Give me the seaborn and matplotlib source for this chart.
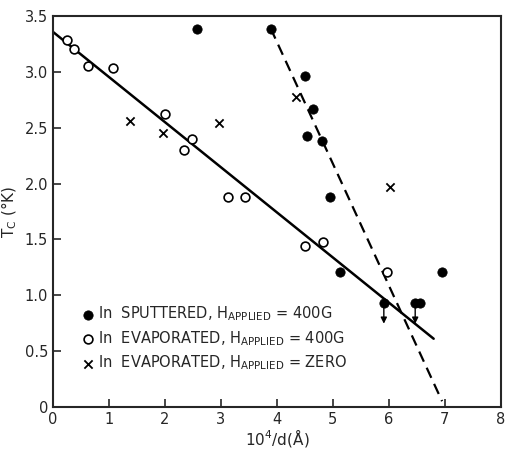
import matplotlib
matplotlib.use("Agg")
import matplotlib.pyplot as plt
import seaborn as sns
import pandas as pd

# In sputtered, H applied = 400G (filled circles)
sput_x = [2.58, 3.89, 4.50, 4.65, 4.53, 4.81, 4.94, 5.13, 5.91, 6.46, 6.55, 6.94]
sput_y = [3.39, 3.39, 2.96, 2.67, 2.43, 2.38, 1.88, 1.21, 0.93, 0.93, 0.93, 1.21]

# In evaporated, H applied = 400G (open circles)
evap_x = [0.25, 0.37, 0.62, 1.08, 2.00, 2.34, 2.48, 3.13, 3.43, 4.50, 4.83, 5.96]
evap_y = [3.29, 3.21, 3.05, 3.04, 2.62, 2.30, 2.40, 1.88, 1.88, 1.44, 1.48, 1.21]

# In evaporated, H applied = zero (crosses)
zero_x = [1.38, 1.97, 2.97, 4.34, 6.02]
zero_y = [2.56, 2.45, 2.54, 2.78, 1.97]

# upper-limit points (arrows down)
limit_x = [5.91, 6.47]
limit_y = [0.93, 0.93]

# fitted lines
solid_x = [0.0, 6.80]
solid_y = [3.36, 0.61]
dash_x = [3.89, 6.95]
dash_y = [3.39, 0.05]

sns.set_style("ticks")
plt.rcParams['font.family'] = ['DejaVu Sans']

fig = plt.figure(figsize=(5.09, 4.51), dpi=100)
ax = fig.add_axes([0.104, 0.098, 0.880, 0.866])

sns.lineplot(x=solid_x, y=solid_y, ax=ax, color='black', linewidth=1.8)
sns.lineplot(x=dash_x, y=dash_y, ax=ax, color='black', linewidth=1.6, linestyle=(0, (5, 3)))

sns.scatterplot(x=sput_x, y=sput_y, ax=ax, color='black', s=45, edgecolor='black',
                label=r'In  SPUTTERED, H$_{\mathrm{APPLIED}}$ = 400G', zorder=3)
sns.scatterplot(x=evap_x, y=evap_y, ax=ax, facecolor='white', s=40, edgecolor='black',
                linewidth=1.2, label=r'In  EVAPORATED, H$_{\mathrm{APPLIED}}$ = 400G', zorder=3)
sns.scatterplot(x=zero_x, y=zero_y, ax=ax, marker='x', color='black', s=35, linewidth=1.3,
                label=r'In  EVAPORATED, H$_{\mathrm{APPLIED}}$ = ZERO', zorder=3)

for lx, ly in zip(limit_x, limit_y):
    ax.annotate('', xy=(lx, ly - 0.21), xytext=(lx, ly),
                arrowprops=dict(arrowstyle='-|>', color='black', lw=1.0, mutation_scale=9))

ax.set_xlim(0, 8)
ax.set_ylim(0, 3.5)
ax.set_xticks(range(0, 9))
ax.set_yticks([0, 0.5, 1.0, 1.5, 2.0, 2.5, 3.0, 3.5])
ax.set_yticklabels(['0', '0.5', '1.0', '1.5', '2.0', '2.5', '3.0', '3.5'])
ax.tick_params(direction='in', length=6, width=1.2, labelsize=10.5)
for s in ax.spines.values():
    s.set_linewidth(1.5)

ax.set_xlabel(r'10$^4$/d(Å)', fontsize=11, labelpad=0)
ax.set_ylabel(r'T$_\mathrm{C}$ (°K)', fontsize=11)

ax.legend(loc='lower left', bbox_to_anchor=(0.035, 0.055), frameon=False, fontsize=10.5,
          handletextpad=0.3, labelspacing=0.4, handlelength=0.8)

fig.savefig('out.png', dpi=100)
